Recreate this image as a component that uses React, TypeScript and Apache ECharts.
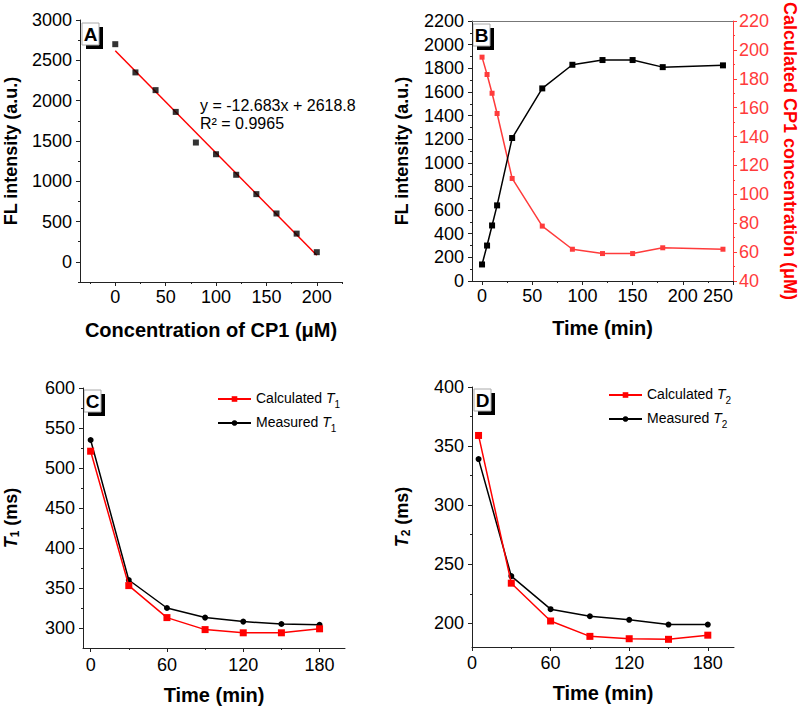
import React, { useEffect, useRef } from 'react';
import * as echarts from 'echarts';

const FONT = '"Liberation Sans", Arial, Helvetica, sans-serif';

// ---------- Panel A ----------
const concA = [0, 20, 40, 60, 80, 100, 120, 140, 160, 180, 200];
const flA = [2700, 2350, 2130, 1860, 1480, 1335, 1080, 840, 600, 350, 120];
const fitSlopeA = -12.683;
const fitInterceptA = 2618.8;
const fitRangeA = [0, 200];
const xTicksA = [0, 50, 100, 150, 200];
const xMinorA = [-25, 25, 75, 125, 175, 225];
const yTicksA = [0, 500, 1000, 1500, 2000, 2500, 3000];
const yMinorA = [-250, 250, 750, 1250, 1750, 2250, 2750];

// ---------- Panel B ----------
const timeB = [0, 5, 10, 15, 30, 60, 90, 120, 150, 180, 240];
const flB = [140, 300, 470, 640, 1210, 1630, 1830, 1870, 1870, 1810, 1825];
const cp1B = [195, 183, 170, 156, 111, 78, 62, 59, 59, 63, 62];
const xTicksB = [0, 50, 100, 150, 200, 250];
const xMinorB = [25, 75, 125, 175, 225];
const yTicksB = [0, 200, 400, 600, 800, 1000, 1200, 1400, 1600, 1800, 2000, 2200];
const yMinorB = [100, 300, 500, 700, 900, 1100, 1300, 1500, 1700, 1900, 2100];
const y2TicksB = [40, 60, 80, 100, 120, 140, 160, 180, 200, 220];
const y2MinorB = [50, 70, 90, 110, 130, 150, 170, 190, 210];

// ---------- Panel C ----------
const timeC = [0, 30, 60, 90, 120, 150, 180];
const calcT1 = [521, 353, 313, 298, 294, 294, 299];
const measT1 = [535, 360, 325, 313, 308, 305, 304];
const xTicksC = [0, 60, 120, 180];
const xMinorC = [30, 90, 150];
const yTicksC = [300, 350, 400, 450, 500, 550, 600];
const yMinorC = [325, 375, 425, 475, 525, 575];

// ---------- Panel D ----------
const timeD = [5, 30, 60, 90, 120, 150, 180];
const calcT2 = [359, 234, 202, 189, 187, 186.5, 190];
const measT2 = [339, 240, 212, 206, 203, 199, 199];
const xTicksD = [0, 60, 120, 180];
const xMinorD = [30, 90, 150];
const yTicksD = [200, 250, 300, 350, 400];
const yMinorD = [225, 275, 325, 375];

const AXIS_COLOR = '#222';
const RED_B = '#ff3b3b';

function zip(xs: number[], ys: number[]) {
  return xs.map((x, i) => [x, ys[i]]);
}

type AxisOpts = {
  grid: number;
  min: number;
  max: number;
  majors: number[];
  minors: number[];
  position: string;
  color?: string;
  labelColor?: string;
  margin?: number;
  name?: string;
  nameGap?: number;
  nameRotate?: number;
  nameColor?: string;
  nameSize?: number;
  rich?: any;
  alignMax?: string;
};

function axisPair(o: AxisOpts) {
  const color = o.color || AXIS_COLOR;
  const main: any = {
    type: 'value',
    gridIndex: o.grid,
    min: o.min,
    max: o.max,
    position: o.position,
    splitLine: { show: false },
    axisLine: { show: true, onZero: false, lineStyle: { color, width: 1 } },
    axisTick: { show: true, inside: false, length: 4, customValues: o.majors, lineStyle: { color, width: 1 } },
    axisLabel: {
      show: true,
      customValues: o.majors,
      formatter: (v: number) => String(v),
      margin: o.margin ?? 7,
      fontSize: 18,
      fontFamily: FONT,
      color: o.labelColor || '#000',
    },
  };
  if (o.alignMax) main.axisLabel.alignMaxLabel = o.alignMax;
  if (o.name) {
    main.name = o.name;
    main.nameLocation = 'middle';
    main.nameGap = o.nameGap;
    if (o.nameRotate !== undefined) main.nameRotate = o.nameRotate;
    main.nameTextStyle = {
      fontSize: o.nameSize || 20,
      fontWeight: 'bold',
      fontFamily: FONT,
      color: o.nameColor || '#000',
      rich: o.rich,
    };
  }
  const minor: any = {
    type: 'value',
    gridIndex: o.grid,
    min: o.min,
    max: o.max,
    position: o.position,
    splitLine: { show: false },
    axisLine: { show: false, onZero: false },
    axisTick: { show: true, inside: false, length: 2, customValues: o.minors, lineStyle: { color, width: 1 } },
    axisLabel: { show: false },
  };
  return [main, minor];
}

const yTitleRich = (size: number) => ({
  i: { fontSize: size, fontWeight: 'bold', fontStyle: 'italic', fontFamily: FONT, color: '#000' },
  s: { fontSize: 12, fontWeight: 'bold', fontFamily: FONT, color: '#000', padding: [8, 0, 0, 0] },
  b: { fontSize: size, fontWeight: 'bold', fontFamily: FONT, color: '#000' },
});

function labelBox(label: string, x: number, y: number) {
  return {
    type: 'group',
    children: [
      { type: 'rect', shape: { x: x + 4, y: y + 4, width: 17, height: 22 }, style: { fill: '#000' } },
      { type: 'rect', shape: { x, y, width: 17, height: 22 }, style: { fill: '#fff', stroke: '#aaa', lineWidth: 1 } },
      {
        type: 'text',
        x: x + 8.5,
        y: y + 11.5,
        style: {
          text: label,
          fontSize: 19,
          fontWeight: 'bold',
          fontFamily: FONT,
          fill: '#000',
          textAlign: 'center',
          textVerticalAlign: 'middle',
        },
      },
    ],
  };
}

export default function App() {
  const ref = useRef<HTMLDivElement>(null);

  useEffect(() => {
    if (!ref.current) return;
    const chart = echarts.init(ref.current, undefined, { renderer: 'svg' });

    const xAxes: any[] = [];
    const yAxes: any[] = [];

    // Panel A axes
    const [ax, axm] = axisPair({
      grid: 0, min: -35, max: 225, majors: xTicksA, minors: xMinorA, position: 'bottom', margin: 6,
      name: 'Concentration of CP1 (μM)', nameGap: 38,
    });
    const axA = xAxes.push(ax) - 1; xAxes.push(axm);
    const [ay, aym] = axisPair({
      grid: 0, min: -250, max: 3000, majors: yTicksA, minors: yMinorA, position: 'left', margin: 8,
      name: 'FL intensity (a.u.)', nameGap: 60, nameSize: 18,
    });
    const ayA = yAxes.push(ay) - 1; yAxes.push(aym);

    // Panel B axes
    const [bx, bxm] = axisPair({
      grid: 1, min: -10, max: 250, majors: xTicksB, minors: xMinorB, position: 'bottom', margin: 6,
      name: 'Time (min)', nameGap: 37, alignMax: 'right',
    });
    const bxA = xAxes.push(bx) - 1; xAxes.push(bxm);
    xAxes.push({
      type: 'value', gridIndex: 1, min: -10, max: 250, position: 'top',
      splitLine: { show: false }, axisLine: { show: true, onZero: false, lineStyle: { color: '#777' } },
      axisTick: { show: false }, axisLabel: { show: false },
    });
    const [by, bym] = axisPair({
      grid: 1, min: 0, max: 2200, majors: yTicksB, minors: yMinorB, position: 'left', margin: 8,
      name: 'FL intensity (a.u.)', nameGap: 61, nameSize: 18,
    });
    const byA = yAxes.push(by) - 1; yAxes.push(bym);
    const [by2, by2m] = axisPair({
      grid: 1, min: 40, max: 220, majors: y2TicksB, minors: y2MinorB, position: 'right', margin: 6,
      color: RED_B, labelColor: RED_B,
      name: 'Calculated CP1 concentration (μM)', nameGap: 48, nameRotate: -90, nameColor: '#ff0000', nameSize: 18,
    });
    const by2A = yAxes.push(by2) - 1; yAxes.push(by2m);

    // Panel C axes
    const [cx, cxm] = axisPair({
      grid: 2, min: -6, max: 200, majors: xTicksC, minors: xMinorC, position: 'bottom', margin: 8,
      name: 'Time (min)', nameGap: 37,
    });
    const cxA = xAxes.push(cx) - 1; xAxes.push(cxm);
    const [cy, cym] = axisPair({
      grid: 2, min: 275, max: 600, majors: yTicksC, minors: yMinorC, position: 'left', margin: 8,
      name: '{i|T}{s|1}{b| (ms)}', nameGap: 62, nameSize: 18, rich: yTitleRich(18),
    });
    const cyA = yAxes.push(cy) - 1; yAxes.push(cym);

    // Panel D axes
    const [dx, dxm] = axisPair({
      grid: 3, min: 0, max: 200, majors: xTicksD, minors: xMinorD, position: 'bottom', margin: 7,
      name: 'Time (min)', nameGap: 36,
    });
    const dxA = xAxes.push(dx) - 1; xAxes.push(dxm);
    const [dy, dym] = axisPair({
      grid: 3, min: 180, max: 400, majors: yTicksD, minors: yMinorD, position: 'left', margin: 8,
      name: '{i|T}{s|2}{b| (ms)}', nameGap: 60, nameSize: 18, rich: yTitleRich(18),
    });
    const dyA = yAxes.push(dy) - 1; yAxes.push(dym);

    const legendRich = {
      n: { fontSize: 14, fontFamily: FONT, color: '#000', lineHeight: 16, verticalAlign: 'top' },
      i: { fontSize: 14, fontStyle: 'italic', fontFamily: FONT, color: '#000', lineHeight: 16, verticalAlign: 'top' },
      s: { fontSize: 10, fontFamily: FONT, color: '#000', lineHeight: 10, padding: [8, 0, 0, 0], verticalAlign: 'top' },
    };
    const legendFmt = (name: string) => {
      const m = name.match(/^(.*)T(\d)$/);
      if (!m) return name;
      return `{n|${m[1]}}{i|T}{s|${m[2]}}`;
    };

    const option: any = {
      animation: false,
      backgroundColor: '#fff',
      textStyle: { fontFamily: FONT },
      grid: [
        { left: 80, top: 20, width: 262, height: 262 },
        { left: 472, top: 20, width: 262, height: 261 },
        { left: 83, top: 388, width: 262, height: 260 },
        { left: 472, top: 387, width: 262, height: 260 },
      ],
      xAxis: xAxes,
      yAxis: yAxes,
      legend: [
        {
          data: ['Calculated T1', 'Measured T1'],
          orient: 'vertical', left: 212, top: 386, itemWidth: 33, itemHeight: 7, itemGap: 6,
          selectedMode: false, formatter: legendFmt,
          textStyle: { fontSize: 14, fontFamily: FONT, color: '#000', rich: legendRich },
        },
        {
          data: ['Calculated T2', 'Measured T2'],
          orient: 'vertical', left: 603, top: 382, itemWidth: 33, itemHeight: 7, itemGap: 6,
          selectedMode: false, formatter: legendFmt,
          textStyle: { fontSize: 14, fontFamily: FONT, color: '#000', rich: legendRich },
        },
      ],
      graphic: [
        labelBox('A', 82, 23),
        labelBox('B', 473, 24),
        labelBox('C', 84, 390),
        labelBox('D', 474, 389),
        {
          type: 'text',
          left: 200,
          top: 96,
          style: {
            text: 'y = -12.683x + 2618.8\nR² = 0.9965',
            fontSize: 16,
            lineHeight: 18,
            fontFamily: FONT,
            fill: '#000',
          },
        },
      ],
      series: [
        {
          name: 'Linear fit',
          type: 'line',
          xAxisIndex: axA, yAxisIndex: ayA,
          data: fitRangeA.map((x) => [x, fitSlopeA * x + fitInterceptA]),
          showSymbol: false,
          lineStyle: { color: '#ff0000', width: 1.5 },
          z: 2,
        },
        {
          name: 'FL intensity',
          type: 'scatter',
          xAxisIndex: axA, yAxisIndex: ayA,
          data: zip(concA, flA),
          symbol: 'rect', symbolSize: 6,
          itemStyle: { color: '#000' },
          z: 3,
        },
        {
          name: 'FL intensity B',
          type: 'line',
          xAxisIndex: bxA, yAxisIndex: byA,
          data: zip(timeB, flB),
          symbol: 'rect', symbolSize: 6,
          itemStyle: { color: '#000' },
          lineStyle: { color: '#000', width: 1.5 },
          z: 3,
        },
        {
          name: 'Calculated CP1',
          type: 'line',
          xAxisIndex: bxA, yAxisIndex: by2A,
          data: zip(timeB, cp1B),
          symbol: 'rect', symbolSize: 5,
          itemStyle: { color: RED_B },
          lineStyle: { color: RED_B, width: 1.5 },
          z: 2,
        },
        {
          name: 'Measured T1',
          type: 'line',
          xAxisIndex: cxA, yAxisIndex: cyA,
          data: zip(timeC, measT1),
          symbol: 'circle', symbolSize: 6,
          itemStyle: { color: '#000' },
          lineStyle: { color: '#000', width: 1.5 },
          z: 2,
        },
        {
          name: 'Calculated T1',
          type: 'line',
          xAxisIndex: cxA, yAxisIndex: cyA,
          data: zip(timeC, calcT1),
          symbol: 'rect', symbolSize: 7,
          itemStyle: { color: '#ff0000' },
          lineStyle: { color: '#ff0000', width: 1.5 },
          z: 3,
        },
        {
          name: 'Measured T2',
          type: 'line',
          xAxisIndex: dxA, yAxisIndex: dyA,
          data: zip(timeD, measT2),
          symbol: 'circle', symbolSize: 6,
          itemStyle: { color: '#000' },
          lineStyle: { color: '#000', width: 1.5 },
          z: 2,
        },
        {
          name: 'Calculated T2',
          type: 'line',
          xAxisIndex: dxA, yAxisIndex: dyA,
          data: zip(timeD, calcT2),
          symbol: 'rect', symbolSize: 7,
          itemStyle: { color: '#ff0000' },
          lineStyle: { color: '#ff0000', width: 1.5 },
          z: 3,
        },
      ],
    };

    chart.setOption(option);
    return () => chart.dispose();
  }, []);

  return (
    <div
      ref={ref}
      style={{ position: 'absolute', left: 0, top: 0, width: 800, height: 706, background: '#fff' }}
    />
  );
}
